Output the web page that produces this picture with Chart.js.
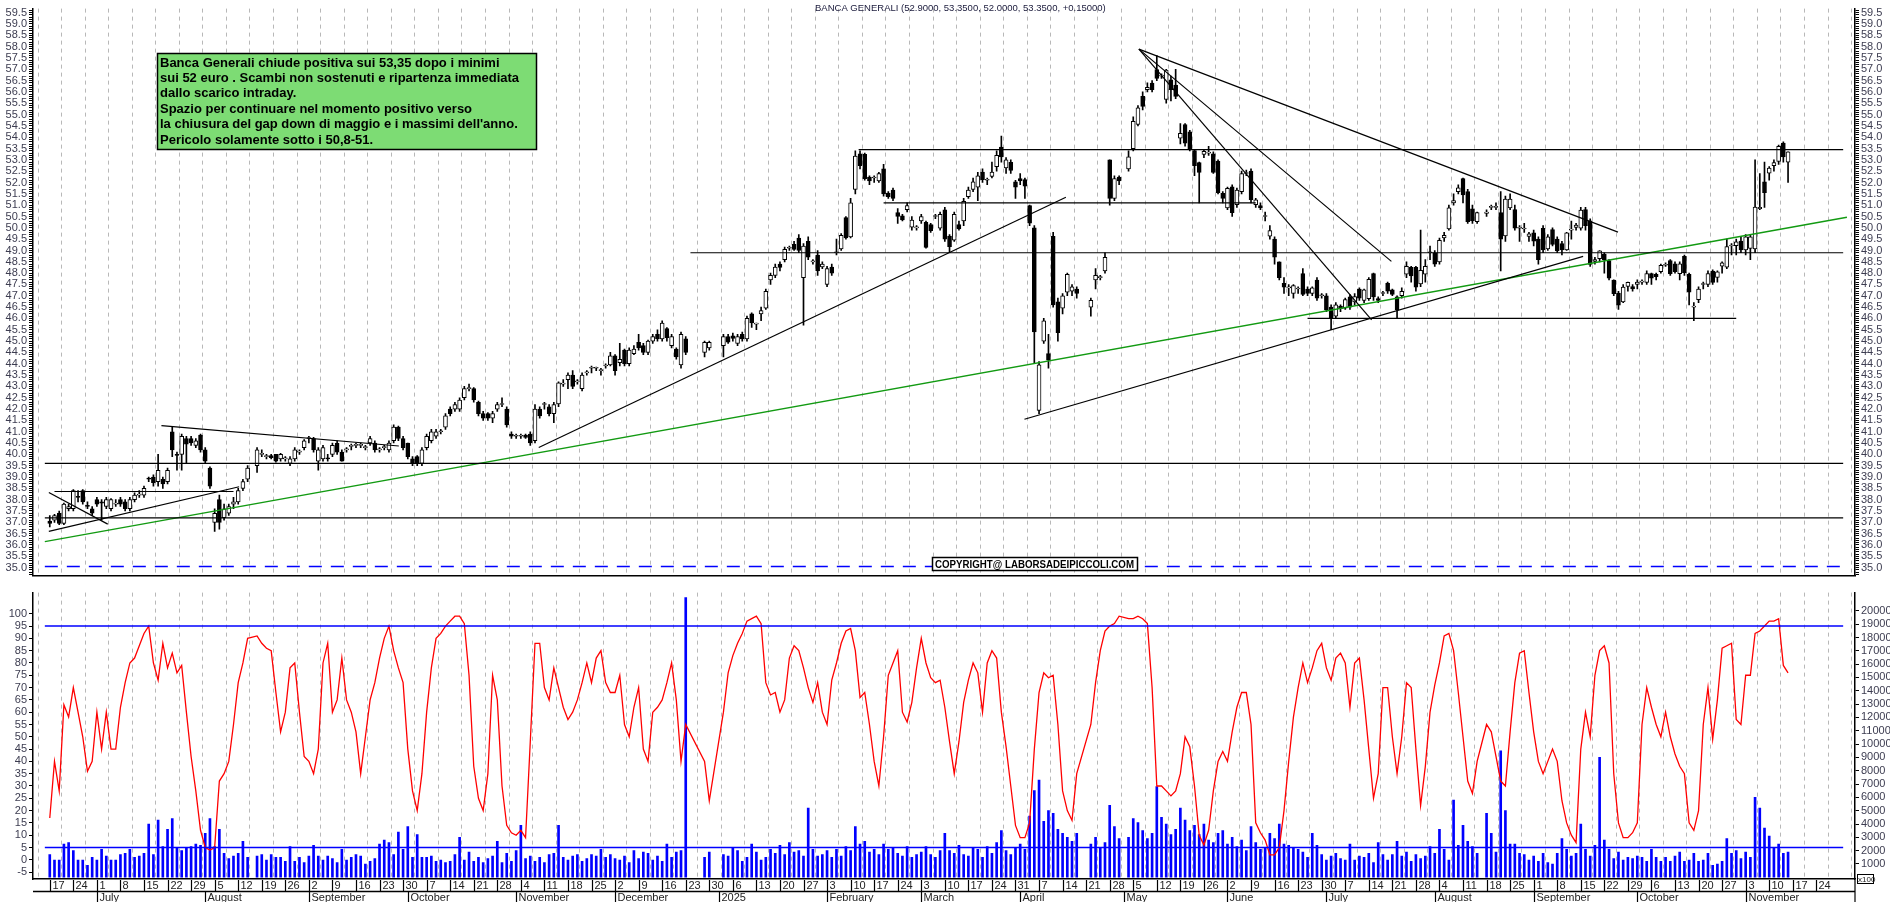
<!DOCTYPE html>
<html><head><meta charset="utf-8">
<script src="https://cdn.jsdelivr.net/npm/chart.js@4/dist/chart.umd.min.js"></script>
<style>
html,body{margin:0;padding:0;background:#fff;width:1890px;height:902px;overflow:hidden}
canvas{position:absolute;left:0}
#top{top:0}#bot{top:584px}
</style></head><body>
<canvas id="top" width="1890" height="584"></canvas>
<canvas id="bot" width="1890" height="318"></canvas>
<script>
// ---------- DATA ----------
const startDate = [2024,5,17]; // Mon 17 June 2024
const lastLabelDate = '2025-11-24';
const holidays = ['2024-08-15','2024-12-24','2024-12-25','2024-12-26','2024-12-31','2025-01-01','2025-04-18','2025-04-21','2025-05-01','2025-08-15'];
const monthNames = ['2025','February','March','April','May','June','July','August','September','October','November','December'];
const open = [37.05,37.1,37.4,36.95,37.6,37.6,38.15,38.4,37.75,37.6,
38.0,37.9,37.7,37.6,37.8,38.0,37.9,37.6,38.0,38.2,
38.2,38.95,39.0,38.8,38.9,38.8,41.0,40.0,40.0,40.7,
40.7,40.4,40.85,40.2,39.4,37.0,38.0,37.2,37.4,37.8,
37.9,38.5,38.9,39.5,40.0,39.9,39.95,40.0,39.8,39.8,
39.6,39.8,40.1,40.3,40.7,40.7,39.7,39.8,39.85,40.0,
40.5,40.1,40.2,40.35,40.4,40.4,40.3,40.5,40.5,40.2,
40.3,40.2,40.6,41.2,40.7,40.5,39.8,39.9,39.6,40.3,
40.6,40.8,41.0,41.2,42.0,42.0,42.0,42.5,42.9,42.9,
42.3,41.8,41.8,41.6,42.0,42.2,42.0,40.9,40.8,40.8,
40.85,40.9,40.6,42.0,42.2,42.1,41.8,42.23,43.1,43.3,
43.5,43.2,42.9,43.6,43.8,43.8,43.7,43.9,43.95,44.35,
44.05,44.6,44.0,44.45,44.95,44.8,44.5,45.0,45.3,45.1,
45.55,44.8,44.65,43.95,45.1,44.5,44.7,44.8,45.2,45.23,
44.9,45.3,45.1,46.2,45.75,46.2,46.45,47.7,47.9,48.4,
48.6,49.1,49.27,49.55,47.8,49.4,48.5,48.8,48.27,47.5,
48.27,48.9,49.07,50.45,49.6,51.7,53.27,53.24,52.24,52.2,
52.07,52.6,51.53,51.67,50.67,50.53,50.8,50.03,50.0,50.3,
50.24,50.14,50.5,49.99,50.8,49.64,49.45,50.14,50.3,51.38,
51.7,51.8,52.46,52.1,52.27,52.7,53.57,52.64,52.89,52.03,
52.17,52.13,50.98,50.0,41.94,45.0,44.45,49.62,46.73,46.45,
47.16,47.2,47.3,46.5,47.7,47.8,48.1,53.0,51.3,52.24,
52.6,53.5,54.56,55.8,56.1,56.39,56.99,56.7,55.67,56.53,
56.3,53.96,54.56,54.24,53.41,52.88,53.24,53.3,53.27,52.95,
51.52,50.88,51.81,51.02,51.6,52.4,52.5,51.02,50.98,50.5,
49.63,49.5,48.5,47.55,47.35,47.1,47.3,47.98,47.3,47.1,
47.69,47.0,47.0,46.5,46.1,46.55,46.45,46.95,46.73,47.3,
46.8,46.87,47.98,46.88,47.1,47.55,47.26,46.95,47.0,47.95,
48.26,48.26,47.52,47.95,48.9,48.9,48.5,49.55,49.95,51.1,
51.6,52.17,51.6,50.84,50.27,50.64,50.9,50.9,50.67,49.64,
50.88,50.81,49.98,49.95,49.62,49.78,49.5,49.98,49.07,49.92,
49.5,49.31,49.02,49.9,50.02,49.98,50.81,50.31,48.52,48.64,
48.84,48.55,47.69,47.12,46.73,47.41,47.41,47.5,47.6,47.59,
47.98,47.95,48.06,48.35,48.55,48.41,47.98,48.74,47.95,46.5,
46.83,47.5,47.5,48.09,47.81,48.31,48.26,49.2,49.21,49.41,
49.02,49.09,49.07,50.85,52.03,52.41,52.74,52.93,53.74,52.9];
const close = [36.95,37.3,36.95,37.8,37.7,38.4,38.1,37.9,37.7,37.4,
37.8,37.85,38.0,38.0,37.85,37.8,37.6,38.0,38.2,38.25,
38.5,38.9,38.75,39.3,38.7,39.3,40.2,39.95,40.8,40.45,
40.5,40.6,40.2,39.7,38.6,37.4,37.0,37.6,37.7,37.9,
38.4,38.8,39.4,40.2,40.0,39.9,39.85,39.7,40.0,39.8,
39.8,40.2,40.1,40.6,40.7,40.2,40.2,40.3,39.8,40.4,
40.1,39.7,40.2,40.35,40.4,40.4,40.3,40.7,40.2,40.2,
40.3,40.5,41.2,40.7,40.3,39.9,39.6,39.6,40.2,40.8,
41.0,41.0,41.0,41.7,41.8,42.2,42.4,42.9,42.9,42.4,
41.8,41.6,41.6,41.8,42.2,42.2,41.3,40.8,40.8,40.8,
40.75,40.5,42.0,41.7,42.2,41.8,42.2,43.16,43.1,43.5,
43.0,43.2,43.5,43.6,43.8,43.8,43.7,43.9,44.35,43.7,
44.2,44.0,44.6,44.65,44.7,44.5,45.0,45.2,45.1,45.8,
45.15,45.2,44.3,45.3,44.5,44.95,44.95,45.2,44.95,45.12,
45.2,45.1,46.0,45.8,45.75,46.35,47.2,47.9,48.27,48.25,
49.05,49.1,49.05,49.0,49.2,48.7,48.5,48.1,48.4,48.2,
48.0,48.9,49.67,49.55,51.1,53.17,52.74,52.17,52.07,52.2,
52.39,51.5,51.38,51.3,50.5,50.35,50.98,50.34,50.0,50.5,
49.14,49.88,50.5,50.6,49.5,49.17,50.6,49.95,51.17,51.67,
52.03,52.3,52.13,52.1,52.46,53.2,53.13,53.0,52.53,51.8,
52.07,51.84,50.21,45.4,43.95,45.9,44.16,46.6,45.37,47.0,
47.95,47.4,47.1,46.8,47.9,47.8,48.7,51.3,52.17,52.07,
53.13,54.7,55.3,55.36,56.2,56.1,56.6,56.7,56.96,56.1,
55.8,54.17,53.74,53.46,52.74,52.45,53.38,53.3,52.45,51.55,
51.3,51.74,50.67,51.67,52.4,52.4,51.24,51.24,50.88,50.5,
49.88,48.7,47.8,47.38,47.35,47.45,47.3,47.06,47.1,47.35,
46.9,47.0,46.38,46.0,46.6,46.43,46.83,46.5,46.97,46.9,
47.26,47.73,46.95,46.8,47.1,47.2,47.06,46.38,47.2,48.3,
47.88,47.38,48.12,48.3,48.9,48.4,49.45,49.67,50.88,51.2,
51.77,51.45,50.27,50.31,50.67,50.7,50.9,50.9,49.5,51.27,
51.27,49.98,49.98,49.95,49.74,49.41,48.6,49.02,49.6,49.27,
48.98,49.02,49.78,49.9,50.12,50.78,50.1,48.38,48.6,48.98,
48.6,47.78,47.09,46.59,47.38,47.59,47.3,47.6,47.6,47.98,
47.78,47.84,48.35,48.35,47.98,48.06,48.41,48.02,47.16,46.5,
47.3,47.5,47.98,47.59,48.06,48.45,49.17,49.2,49.38,49.02,
49.6,49.6,50.92,50.9,51.55,52.64,52.88,53.6,53.13,53.35];
const high = [37.3,37.35,37.5,37.85,37.8,38.45,38.4,38.45,37.9,37.7,
38.1,38.0,38.1,38.05,38.0,38.1,38.0,38.1,38.3,38.4,
38.6,39.0,39.1,40.0,39.0,39.4,41.2,40.1,40.9,40.8,
40.8,40.7,40.9,40.3,39.45,37.6,38.2,37.8,37.8,38.1,
38.5,38.9,39.5,40.3,40.2,40.0,40.0,40.0,40.05,39.9,
39.9,40.3,40.2,40.65,40.8,40.75,40.3,40.4,40.0,40.5,
40.6,40.2,40.3,40.45,40.5,40.5,40.4,40.8,40.6,40.3,
40.4,40.6,41.3,41.25,40.8,40.5,39.9,39.95,40.3,40.9,
41.1,41.1,41.1,41.8,42.1,42.3,42.5,43.0,43.1,42.95,
42.35,41.9,41.85,41.9,42.3,42.5,42.1,41.0,40.9,40.9,
40.9,41.0,42.2,42.1,42.3,42.2,42.3,43.2,43.3,43.6,
43.7,43.3,43.6,43.7,43.9,43.85,43.8,44.0,44.5,44.4,
44.9,44.65,44.7,44.8,45.3,44.9,45.05,45.3,45.5,45.9,
45.6,45.3,44.7,45.4,45.2,45.0,45.0,45.3,45.3,45.35,
45.3,45.4,46.1,46.25,45.8,46.5,47.3,48.0,48.4,48.5,
49.15,49.2,49.4,49.7,49.3,49.6,48.6,49.0,48.5,48.3,
48.4,49.5,49.75,50.5,51.3,53.4,53.4,53.3,52.3,52.3,
52.45,52.8,51.6,51.75,50.85,50.6,51.1,50.5,50.1,50.6,
50.3,50.2,50.6,50.7,50.9,49.7,50.7,50.3,51.3,51.8,
52.2,52.45,52.6,52.2,52.9,53.4,54.05,53.1,53.0,52.1,
52.4,52.2,51.0,50.1,44.1,46.0,45.3,49.8,46.9,47.1,
48.0,47.5,47.4,46.9,48.2,47.9,48.9,53.0,52.3,52.3,
53.4,54.9,55.4,56.0,56.4,56.5,57.6,56.8,57.0,56.7,
57.0,54.6,54.6,54.3,53.45,52.9,53.45,53.6,53.35,53.0,
51.6,51.8,51.9,51.75,52.5,52.55,52.6,51.3,51.1,50.7,
50.1,49.6,48.5,47.8,47.5,47.5,47.4,48.2,47.4,47.4,
47.8,47.1,47.1,46.6,46.7,46.6,46.9,47.05,47.1,47.35,
47.3,47.8,48.0,46.95,47.2,47.6,47.3,47.0,47.35,48.5,
48.3,48.3,49.9,48.6,49.2,49.0,49.55,49.8,51.0,51.5,
51.9,52.2,51.7,51.0,50.7,50.8,51.0,51.1,51.6,51.4,
51.5,51.0,50.1,50.2,49.8,49.9,49.6,50.1,49.7,50.0,
49.6,49.4,49.8,50.3,50.2,50.9,50.9,50.4,48.7,49.0,
48.9,48.6,47.7,47.2,47.5,47.6,47.5,47.7,47.7,48.1,
48.0,48.0,48.4,48.45,48.6,48.5,48.5,48.8,48.0,46.7,
47.4,47.6,48.1,48.15,48.1,48.5,49.5,49.3,49.5,49.6,
49.7,49.7,53.0,52.4,52.9,52.7,53.0,53.65,53.8,53.35];
const low = [36.8,37.0,36.9,36.9,37.5,37.5,37.9,37.8,37.6,37.3,
37.7,37.1,37.6,37.5,37.7,37.7,37.5,37.5,37.9,38.1,
38.1,38.8,38.6,38.6,38.5,38.7,39.9,39.3,39.3,39.6,
40.4,40.3,40.1,39.6,38.5,36.6,36.7,37.1,37.3,37.6,
37.8,38.4,38.8,39.2,39.9,39.8,39.8,39.65,39.7,39.7,
39.5,39.7,40.0,40.2,40.5,40.1,39.3,39.7,39.7,39.9,
40.0,39.7,40.1,40.2,40.3,40.3,40.2,40.4,40.1,40.1,
40.2,40.1,40.5,40.6,40.2,39.8,39.5,39.5,39.5,40.2,
40.5,40.7,40.9,41.1,41.7,41.9,41.9,42.4,42.8,42.3,
41.7,41.5,41.5,41.4,41.9,42.1,41.2,40.7,40.7,40.7,
40.7,40.4,40.5,41.6,42.0,41.7,41.4,42.1,43.0,42.9,
42.9,43.1,42.8,43.5,43.6,43.7,43.5,43.8,43.9,43.5,
43.9,43.9,43.9,44.4,44.6,44.4,44.4,44.9,45.0,45.0,
45.0,44.7,44.2,43.8,44.4,44.3,44.6,44.3,44.9,45.0,
44.8,45.0,45.0,45.6,45.5,45.9,46.4,47.5,47.8,48.1,
48.5,49.0,49.0,48.9,45.7,48.6,48.4,47.9,48.2,47.4,
47.9,48.8,49.0,49.5,49.55,51.5,52.6,52.1,51.9,52.0,
52.0,51.4,51.3,51.2,50.2,50.3,50.7,49.9,49.9,50.2,
49.1,49.8,50.4,49.9,49.4,48.9,49.4,49.9,50.1,51.3,
51.6,51.2,52.0,51.9,52.2,52.5,52.9,52.4,52.4,51.3,
51.9,51.3,50.1,44.0,41.8,44.9,43.8,46.5,45.0,46.2,
47.0,47.0,46.9,46.1,47.3,47.7,48.0,51.0,51.2,51.9,
52.5,53.4,54.5,55.2,56.0,56.0,56.5,56.6,55.5,55.6,
55.7,53.7,53.6,53.4,52.3,51.1,53.1,53.2,52.4,51.5,
51.1,50.8,50.5,50.9,51.5,52.3,51.1,50.9,50.8,50.3,
49.5,48.4,47.7,47.1,47.0,46.9,47.1,47.0,47.0,47.0,
46.8,46.9,46.3,45.5,46.0,46.3,46.4,46.4,46.6,46.8,
46.7,46.8,46.8,46.7,47.0,47.1,47.0,46.0,46.9,47.8,
47.6,47.2,47.4,47.6,48.6,48.3,48.4,49.4,49.9,51.0,
51.5,51.1,50.2,50.2,50.2,50.5,50.8,50.8,48.1,49.4,
50.8,49.9,49.4,49.8,49.4,49.2,48.4,48.9,49.0,49.2,
48.9,48.8,49.0,49.5,49.9,49.9,49.9,48.3,48.4,48.5,
48.0,47.7,47.0,46.4,46.7,47.2,47.2,47.3,47.5,47.5,
47.5,47.7,48.0,48.3,47.9,48.0,47.7,47.9,46.6,45.9,
46.7,47.3,47.4,47.5,47.6,48.0,48.2,48.8,48.8,48.9,
48.8,48.6,48.9,50.8,50.9,52.1,52.5,52.8,52.9,52.0];
const stoch = [17,40,28,63,58,70,60,50,36,40,60,45,60,45,45,62,72,80,82,87,
92,95,80,73,88,78,84,76,79,60,42,28,12,5,4,5,32,35,40,55,
72,80,90,91,88,86,85,68,52,60,78,80,60,42,40,35,45,80,88,60,
65,82,65,60,52,35,50,65,72,82,90,95,85,78,72,45,28,20,35,60,
78,90,92,95,97,99,99,96,75,38,25,20,35,75,65,30,14,11,10,
12,9,48,88,88,70,65,78,70,62,57,60,65,72,80,72,82,85,72,68,
68,75,55,50,62,70,45,40,60,62,65,72,80,65,40,55,40,24,60,76,
83,88,92,97,98,99,96,72,67,68,60,65,82,87,85,78,70,64,72,
60,55,73,80,88,93,94,85,66,68,55,40,30,50,75,80,85,60,56,64,
78,90,80,74,72,73,62,48,35,48,64,73,80,76,60,80,85,82,60,46,
30,14,9,9,15,45,68,76,74,75,55,28,20,16,35,55,72,85,93,95,
96,99,98,98,99,98,96,70,30,30,28,26,28,35,50,46,30,
10,6,12,28,40,44,40,52,62,68,68,55,15,11,8,2,2,5,20,40,
58,70,80,72,78,85,88,78,73,82,84,80,62,80,82,65,45,25,35,70,
70,50,35,50,72,70,45,22,38,60,71,80,91,92,85,68,50,32,27,40,
55,52,42,32,30,52,72,84,85,68,52,40,35,40,45,40,24,15,10,7,
45,60,50,75,85,87,80,35,15,9,9,11,15,55,70,62,55,50,60,50,
43,38,35,15,12,20,
55,70,49,65,86,87,88,57,55,75,75,92,93,95,97,97,98,79,76];
const volume = [1700,1300,1300,2500,2600,2000,1300,1300,900,1500,
1300,2100,1600,1300,1300,1700,1800,2100,1500,1600,
1800,4000,1700,4300,2300,3600,4400,2200,2000,2200,
2300,2500,2400,3300,4400,2300,3600,1800,1400,1600,
1800,2700,1500,1600,1700,1300,1700,1500,1500,1200,
2300,1200,1500,1100,1600,2400,1600,1300,1600,1400,
1100,2100,1300,1500,1700,1600,1000,1200,1400,2500,
2800,2600,1700,3400,2100,3800,1500,3200,1500,1500,
1600,1200,1300,1100,1200,1700,3000,1300,1900,1200,
1500,1100,1400,1600,2700,1100,1800,1200,2000,3900,
1400,1600,1200,1500,1100,1700,1800,3900,1500,1300,
1600,1700,1200,1400,1700,1600,2100,1500,1700,1400,
1300,1600,1100,2000,1400,1900,1800,1300,1600,1200,
2500,1500,1900,2000,21000,1500,1900,1700,1600,2200,
2000,1200,1500,2500,1900,1300,1500,2100,1800,2400,
1700,2600,1900,2000,1600,5200,2100,1600,1700,2000,
1500,2100,1600,2300,2000,3800,2500,2700,1900,2100,
1700,2500,2100,2200,1800,1600,2300,1500,1700,1900,
2300,1700,1500,2000,3300,2000,1800,2400,1700,1600,
2200,2100,1500,2300,1800,2600,3500,2000,1700,2200,
2500,2100,4600,6500,7300,4200,5000,4800,3600,3300,
3000,2700,3300,2500,3000,2200,2600,5400,3800,2900,
3000,4400,4100,3500,2900,3300,6800,4500,4000,3200,
3600,5200,4300,3500,3900,3200,4000,2800,2600,3300,
3500,2500,3000,2300,2800,2000,3800,2600,2100,2200,
3300,2900,4000,2500,2400,2200,2100,1900,1500,3300,
2400,1700,1300,1600,1800,1400,1300,2500,1300,1600,
1500,1800,1100,2600,1700,1300,1700,2700,1600,1900,
1200,1700,1400,1600,2300,1800,3600,2100,1300,5800,
2400,3900,2700,2300,1800,4800,3300,1900,9500,5000,
2500,2500,1800,1700,1300,1600,1200,1800,1100,1000,
1800,2900,2100,1600,1800,4000,2100,1600,2400,9000,
2800,2100,1400,1900,1300,1500,1400,1600,1500,1200,
2100,1500,1200,1500,1200,1600,1900,1200,1300,1800,
1200,1300,1800,900,1000,1200,2900,1800,2000,1400,
1900,1500,6000,5200,3700,3100,2200,2500,1800,1900];
// levels and trendlines: [slotStart, priceStart, slotEnd, priceEnd]
const blackLines = [
 [-1.05,39.6,380.7,39.6],[-1.05,37.2,380.7,37.2],[136,48.9,380.7,48.9],[171.7,53.45,380.7,53.45],
 [177,51.1,256,51.1],[267,46.0,358,46.0],[1,38.36,39,38.36],
 [-0.2,36.6,40.2,38.57],[-0.2,38.32,12.3,36.92],[23.7,41.27,74.1,40.37],
 [103.8,40.3,215.7,51.35],[206.9,41.55,325.5,48.74],
 [231.2,57.89,332.9,49.81],[231.2,57.89,284.8,48.52],[231.2,57.89,280.6,45.94]];
const greenLine = [-1.05,36.15,381.5,50.47];
const blueDashLevel = 35.05;
const stochLevels = [95,5];
const noteLines = ["Banca Generali chiude positiva sui 53,35 dopo i minimi","sui 52 euro . Scambi non sostenuti e ripartenza immediata","dallo scarico intraday.","Spazio per continuare nel momento positivo verso","la chiusura del gap down di maggio e i massimi dell'anno.","Pericolo solamente sotto i 50,8-51."];
const titleText = "BANCA GENERALI (52.9000, 53.3500, 52.0000, 53.3500, +0.15000)";
const copyText = "COPYRIGHT@ LABORSADEIPICCOLI.COM";

// ---------- SLOTS ----------
const pad = n => (n<10?'0':'')+n;
const slotDates = [];
{ const d = new Date(startDate[0],startDate[1],startDate[2]);
  while (slotDates.length < 382) { const w=d.getDay(); if (w>0&&w<6) slotDates.push(new Date(d)); d.setDate(d.getDate()+1); } }
const iso = d => d.getFullYear()+'-'+pad(d.getMonth()+1)+'-'+pad(d.getDate());
const tradeSlots = [];
slotDates.forEach((d,i)=>{ if (!holidays.includes(iso(d))) tradeSlots.push(i); });
const mondays = [], monthStarts = [];
slotDates.forEach((d,i)=>{ if (d.getDay()===1) mondays.push(i);
  if (i===0 || d.getMonth()!==slotDates[i-1].getMonth()) monthStarts.push(i); });
const lastLabelSlot = slotDates.findIndex(d=>iso(d)===lastLabelDate);
const XMIN=-1.05, XMAX=380.7;
const N = close.length;
const idx = [...Array(N).keys()];

Chart.defaults.font.family = "'Liberation Sans', Arial, sans-serif";
Chart.defaults.animation = false;
Chart.defaults.events = [];
const lineDs = (seg,color,w,dash,axis) => ({type:'line', data:[{x:seg[0],y:seg[1]},{x:seg[2],y:seg[3]}], borderColor:color, borderWidth:w, borderDash:dash||[], pointRadius:0, yAxisID:axis||'y', order:0});
const xCfg = h => ({type:'linear', min:XMIN, max:XMAX, afterBuildTicks:s=>{s.ticks=mondays.map(v=>({value:v}));},
  ticks:{display:false}, grid:{color:'#b8b8b8', lineWidth:1, drawTicks:false}, border:{display:true,color:'#000',width:1.5,dash:[4,4]}, afterFit:s=>{s.height=h;}});

// ---------- TOP ----------
const YMIN=34.657, YMAX=59.678;
const priceTicks = [];
for (let v=347; v<=596; v++) priceTicks.push({value:v/10});
const yCfg = (pos,w) => ({type:'linear', position:pos, min:YMIN, max:YMAX,
  afterBuildTicks:s=>{s.ticks=priceTicks.map(t=>({value:t.value}));},
  ticks:{autoSkip:false, color:'#3c3c50', font:{size:11}, padding:2,
    callback:v=>{const k=Math.round(v*10); return (k%5===0 && k>=350)? (k/10).toFixed(1):'';}},
  grid:{drawOnChartArea:false, drawTicks:true, tickLength:4, color:'#000'},
  border:{display:true,color:'#000',width:1.5}, afterFit:s=>{s.width=w;}});

const topPlugin = {id:'topdeco', afterDraw(c){ const g=c.ctx; g.save();
  g.font="9.5px 'Liberation Sans', Arial"; g.fillStyle='#202040'; g.textBaseline='middle';
  g.fillText(titleText, 815, 8);
  g.fillStyle='#7ddc74'; g.fillRect(157,53,379,96); g.strokeStyle='#000'; g.lineWidth=1.5; g.strokeRect(157.5,53.5,379,96);
  g.fillStyle='#000'; g.font="bold 13px 'Liberation Sans', Arial";
  noteLines.forEach((t,i)=>g.fillText(t,160,63+i*15.4,372));
  g.fillStyle='#fff'; g.fillRect(932,557,205,13); g.strokeRect(932.5,557.5,205,13);
  g.fillStyle='#000'; g.font="bold 11px 'Liberation Sans', Arial"; g.fillText(copyText,935,564.5,199);
  g.restore(); }};

new Chart(document.getElementById('top'), {
  type:'bar',
  data:{datasets:[
    ...blackLines.map(s=>lineDs(s,'#000',1.2)),
    lineDs(greenLine,'#129a12',1.4),
    lineDs([XMIN,blueDashLevel,XMAX,blueDashLevel],'#0000ff',1.6,[13,9]),
    {type:'bar', data:idx.map(i=>({x:tradeSlots[i], y:[low[i],high[i]]})), backgroundColor:'#000', barThickness:1, grouped:false, order:2},
    {type:'bar', data:idx.map(i=>({x:tradeSlots[i], y:[Math.min(open[i],close[i]),Math.max(open[i],close[i])]})),
     backgroundColor:idx.map(i=>close[i]>=open[i]?'#fff':'#000'), borderColor:'#000', borderWidth:1, borderSkipped:false,
     barThickness:4, minBarLength:1, grouped:false, order:1}
  ]},
  options:{responsive:false, maintainAspectRatio:false, devicePixelRatio:1,
    layout:{padding:0},
    plugins:{legend:{display:false}, tooltip:{enabled:false}},
    scales:{x:xCfg(1), y:yCfg('left',33), yr:yCfg('right',35)}},
  plugins:[topPlugin]
});

// ---------- BOTTOM ----------
const SMIN=-7.8, SMAX=108.6, VMIN=-128, VMAX=21369;
const stochTicks=[]; for(let v=-5; v<=100; v+=5) stochTicks.push(v);
const volTicks=[]; for(let v=1000; v<=20000; v+=1000) volTicks.push(v);
const botPlugin = {id:'botdeco', afterDraw(c){ const g=c.ctx, xs=c.scales.x; g.save();
  g.strokeStyle='#000'; g.lineWidth=1.5;
  g.beginPath(); g.moveTo(33,307.5); g.lineTo(1855,307.5); g.stroke();
  g.lineWidth=1.2; g.fillStyle='#222'; g.font="11px 'Liberation Sans', Arial"; g.textBaseline='middle';
  mondays.forEach(s=>{ if(s>lastLabelSlot) return; const p=Math.round(xs.getPixelForValue(s))+0.5; if(p<30) return;
    g.beginPath(); g.moveTo(p,296); g.lineTo(p,307); g.stroke();
    g.fillText(String(slotDates[s].getDate()), p+2, 302); });
  monthStarts.forEach(s=>{ if(s===0||s>lastLabelSlot) return; const p=Math.round(xs.getPixelForValue(s))+0.5;
    g.beginPath(); g.moveTo(p,307); g.lineTo(p,318); g.stroke();
    g.fillText(monthNames[slotDates[s].getMonth()], p+2, 313.5); });
  g.beginPath(); g.moveTo(1855,296); g.lineTo(1855,318); g.stroke();
  g.lineWidth=1; g.strokeRect(1857.5,290.5,16,9); g.font="8px 'Liberation Sans', Arial"; g.fillText('x100',1858,295.5);
  g.restore(); }};

new Chart(document.getElementById('bot'), {
  type:'bar',
  data:{datasets:[
    ...stochLevels.map(v=>lineDs([XMIN,v,XMAX,v],'#0000ff',1.5,null,'ys')),
    {type:'line', data:idx.map(i=>({x:tradeSlots[i], y:stoch[i]})), borderColor:'#ff0000', borderWidth:1.3, pointRadius:0, tension:0, yAxisID:'ys', order:1},
    {type:'bar', data:idx.map(i=>({x:tradeSlots[i], y:volume[i]})), backgroundColor:'#0000ff', barThickness:2, grouped:false, yAxisID:'yv', order:2}
  ]},
  options:{responsive:false, maintainAspectRatio:false, devicePixelRatio:1,
    layout:{padding:{top:4}},
    plugins:{legend:{display:false}, tooltip:{enabled:false}},
    scales:{
      x:xCfg(23),
      ys:{type:'linear', position:'left', min:SMIN, max:SMAX, afterBuildTicks:s=>{s.ticks=stochTicks.map(v=>({value:v}));},
        ticks:{autoSkip:false, color:'#3c3c50', font:{size:11}, padding:2}, grid:{drawOnChartArea:false, tickLength:4, color:'#000'},
        border:{display:true,color:'#000',width:1.5}, afterFit:s=>{s.width=33;}},
      yv:{type:'linear', position:'right', min:VMIN, max:VMAX, afterBuildTicks:s=>{s.ticks=volTicks.map(v=>({value:v}));},
        ticks:{autoSkip:false, color:'#3c3c50', font:{size:11}, padding:2, callback:v=>String(v)}, grid:{drawOnChartArea:false, tickLength:4, color:'#000'},
        border:{display:true,color:'#000',width:1.5}, afterFit:s=>{s.width=35;}}
    }},
  plugins:[botPlugin]
});
</script></body></html>
